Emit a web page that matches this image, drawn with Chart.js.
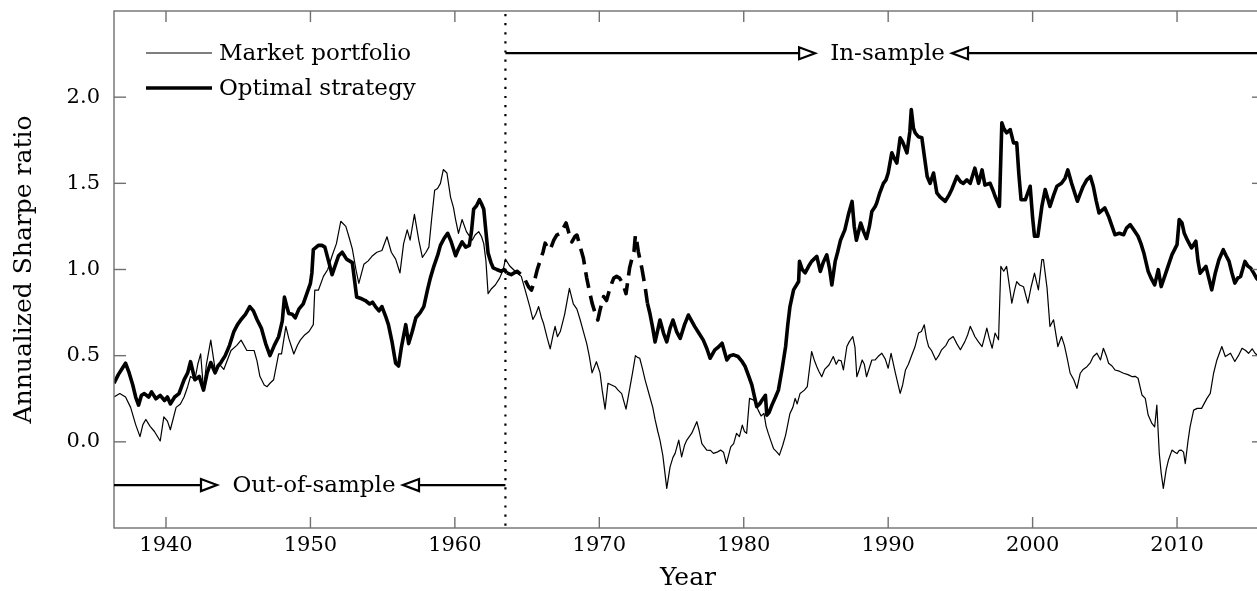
<!DOCTYPE html>
<html>
<head>
<meta charset="utf-8">
<script src="https://cdn.jsdelivr.net/npm/chart.js@4/dist/chart.umd.min.js"></script>
<style>
    html, body { margin: 0; padding: 0; background: #fff; overflow: hidden; }
    #wrap { position: relative; width: 1270px; height: 591px; }
</style>
</head>
<body>
<div id="wrap"><canvas id="sharpeChart"></canvas></div>
<script>
// Ticks
const yearTicks = [1940, 1950, 1960, 1970, 1980, 1990, 2000, 2010];
const sharpeTicks = [0.0, 0.5, 1.0, 1.5, 2.0];

// Sample split and dashed stretch of the optimal strategy
const splitYear = 1963.5;
const dashedFrom = 1963.45;
const dashedTo = 1973.34;

// Market portfolio (thin)
const marketYears = [
    1936.4, 1936.8, 1937.2, 1937.55, 1937.9, 1938.2, 1938.4, 1938.6, 1938.9, 1939.2,
    1939.6, 1939.85, 1940.1, 1940.3, 1940.7, 1941.0, 1941.25, 1941.5, 1941.7, 1942.0,
    1942.2, 1942.4, 1942.6, 1942.8, 1943.1, 1943.4, 1943.7, 1944.0, 1944.5, 1944.9,
    1945.2, 1945.6, 1946.1, 1946.3, 1946.5, 1946.8, 1947.0, 1947.2, 1947.45, 1947.8,
    1948.0, 1948.3, 1948.5, 1948.85, 1949.1, 1949.3, 1949.6, 1949.9, 1950.2, 1950.3,
    1950.55, 1950.9, 1951.2, 1951.5, 1951.8, 1952.1, 1952.45, 1952.7, 1952.9, 1953.15,
    1953.35, 1953.7, 1954.0, 1954.3, 1954.6, 1954.95, 1955.3, 1955.6, 1955.9, 1956.2,
    1956.45, 1956.7, 1956.9, 1957.2, 1957.5, 1957.75, 1958.0, 1958.2, 1958.4, 1958.6,
    1958.8, 1959.0, 1959.2, 1959.45, 1959.7, 1959.9, 1960.05, 1960.25, 1960.5, 1960.8,
    1961.2, 1961.4, 1961.65, 1961.85, 1962.0, 1962.15, 1962.3, 1962.55, 1962.8, 1963.1,
    1963.35, 1963.5, 1963.8, 1964.05, 1964.3, 1964.6, 1964.97, 1965.2, 1965.4, 1965.6,
    1965.8, 1966.0, 1966.13, 1966.4, 1966.6, 1966.8, 1966.94, 1967.1, 1967.3, 1967.6,
    1967.93, 1968.2, 1968.45, 1968.67, 1968.9, 1969.13, 1969.3, 1969.5, 1969.8, 1970.05,
    1970.2, 1970.4, 1970.6, 1970.85, 1971.1, 1971.3, 1971.55, 1971.85, 1972.13, 1972.3,
    1972.5, 1972.65, 1972.8, 1973.0, 1973.17, 1973.5, 1973.7, 1973.86, 1974.05, 1974.2,
    1974.4, 1974.67, 1974.9, 1975.1, 1975.25, 1975.5, 1975.7, 1975.9, 1976.06, 1976.4,
    1976.75, 1976.9, 1977.1, 1977.44, 1977.7, 1977.9, 1978.15, 1978.4, 1978.6, 1978.8,
    1979.1, 1979.3, 1979.5, 1979.7, 1979.9, 1980.05, 1980.2, 1980.4, 1980.7, 1981.0,
    1981.2, 1981.4, 1981.55, 1981.7, 1981.9, 1982.06, 1982.3, 1982.47, 1982.7, 1982.9,
    1983.2, 1983.4, 1983.56, 1983.7, 1983.9, 1984.2, 1984.4, 1984.7, 1984.9, 1985.06,
    1985.2, 1985.4, 1985.6, 1985.9, 1986.2, 1986.4, 1986.56, 1986.75, 1986.9, 1987.14,
    1987.3, 1987.55, 1987.7, 1987.83, 1988.0, 1988.2, 1988.35, 1988.5, 1988.7, 1988.87,
    1989.1, 1989.3, 1989.56, 1989.8, 1990.0, 1990.2, 1990.5, 1990.83, 1991.0, 1991.2,
    1991.4, 1991.6, 1991.85, 1992.1, 1992.3, 1992.5, 1992.65, 1992.8, 1993.0, 1993.3,
    1993.5, 1993.7, 1994.0, 1994.2, 1994.5, 1994.75, 1995.0, 1995.3, 1995.5, 1995.68,
    1995.85, 1996.0, 1996.25, 1996.5, 1996.65, 1996.83, 1997.0, 1997.2, 1997.4, 1997.64,
    1997.8, 1998.0, 1998.2, 1998.4, 1998.56, 1998.75, 1998.9, 1999.1, 1999.37, 1999.67,
    1999.9, 2000.13, 2000.4, 2000.64, 2000.75, 2001.0, 2001.2, 2001.45, 2001.75, 2002.0,
    2002.2, 2002.37, 2002.6, 2002.85, 2003.07, 2003.3, 2003.5, 2003.76, 2004.0, 2004.2,
    2004.45, 2004.7, 2004.9, 2005.1, 2005.26, 2005.5, 2005.7, 2006.0, 2006.3, 2006.6,
    2006.9, 2007.1, 2007.3, 2007.57, 2007.8, 2008.0, 2008.26, 2008.45, 2008.6, 2008.77,
    2008.9, 2009.05, 2009.25, 2009.4, 2009.65, 2009.85, 2010.0, 2010.15, 2010.3, 2010.45,
    2010.57, 2010.75, 2010.9, 2011.15, 2011.4, 2011.7, 2012.07, 2012.3, 2012.53, 2012.76,
    2013.1, 2013.34, 2013.7, 2014.0, 2014.25, 2014.5, 2014.75, 2014.95, 2015.2, 2015.4,
    2015.6
];
const marketSharpe = [
    0.26, 0.28, 0.26, 0.20, 0.10, 0.03, 0.10, 0.13, 0.09, 0.06,
    0.005, 0.145, 0.12, 0.07, 0.20, 0.22, 0.26, 0.32, 0.38, 0.36,
    0.45, 0.51, 0.30, 0.45, 0.59, 0.42, 0.45, 0.42, 0.53, 0.56,
    0.59, 0.53, 0.53, 0.47, 0.38, 0.33, 0.32, 0.34, 0.36, 0.51,
    0.51, 0.67, 0.60, 0.51, 0.56, 0.59, 0.62, 0.64, 0.68, 0.88,
    0.88, 0.96, 1.00, 1.08, 1.15, 1.28, 1.25, 1.18, 1.12, 1.00,
    0.92, 1.03, 1.05, 1.08, 1.10, 1.11, 1.19, 1.10, 1.06, 0.98,
    1.15, 1.23, 1.17, 1.32, 1.17, 1.07, 1.10, 1.13, 1.30, 1.46,
    1.47, 1.50, 1.58, 1.56, 1.42, 1.36, 1.29, 1.21, 1.29, 1.22,
    1.17, 1.20, 1.22, 1.19, 1.15, 1.05, 0.86, 0.89, 0.91, 0.95,
    1.00, 1.06, 1.02, 1.00, 0.98, 0.96, 0.85, 0.78, 0.71, 0.74,
    0.785, 0.72, 0.69, 0.60, 0.54, 0.62, 0.67, 0.61, 0.64, 0.74,
    0.89, 0.80, 0.77, 0.71, 0.64, 0.57, 0.50, 0.40, 0.465, 0.40,
    0.30, 0.19, 0.34, 0.33, 0.32, 0.30, 0.28, 0.19, 0.32, 0.40,
    0.50, 0.49, 0.485, 0.42, 0.36, 0.26, 0.20, 0.13, 0.06, 0.01,
    -0.08, -0.27, -0.145, -0.09, -0.067, 0.01, -0.087, -0.02, 0.01, 0.05,
    0.117, 0.07, -0.01, -0.048, -0.05, -0.067, -0.06, -0.048, -0.06, -0.126,
    -0.029, -0.01, 0.049, 0.03, 0.097, 0.06, 0.049, 0.252, 0.242, 0.184,
    0.15, 0.165, 0.09, 0.049, 0.0, -0.039, -0.06, -0.077, -0.02, 0.039,
    0.165, 0.20, 0.252, 0.22, 0.281, 0.30, 0.32, 0.524, 0.47, 0.436,
    0.41, 0.378, 0.42, 0.446, 0.495, 0.45, 0.475, 0.47, 0.417, 0.553,
    0.58, 0.611, 0.55, 0.378, 0.42, 0.475, 0.45, 0.378, 0.43, 0.475,
    0.475, 0.495, 0.514, 0.48, 0.427, 0.514, 0.398, 0.281, 0.33, 0.417,
    0.45, 0.495, 0.55, 0.631, 0.64, 0.679, 0.60, 0.553, 0.53, 0.475,
    0.50, 0.534, 0.56, 0.592, 0.611, 0.57, 0.534, 0.58, 0.62, 0.67,
    0.64, 0.611, 0.58, 0.553, 0.60, 0.66, 0.60, 0.543, 0.631, 0.592,
    1.018, 0.99, 1.018, 0.90, 0.805, 0.88, 0.93, 0.91, 0.90, 0.805,
    0.90, 0.979, 0.882, 1.057, 1.057, 0.892, 0.669, 0.708, 0.553, 0.611,
    0.56, 0.495, 0.398, 0.36, 0.31, 0.398, 0.42, 0.436, 0.46, 0.495,
    0.514, 0.475, 0.543, 0.50, 0.456, 0.44, 0.417, 0.41, 0.398, 0.39,
    0.378, 0.38, 0.369, 0.272, 0.252, 0.155, 0.107, 0.087, 0.213, -0.068,
    -0.18, -0.27, -0.16, -0.107, -0.048, -0.06, -0.068, -0.05, -0.048, -0.06,
    -0.126, 0.0, 0.087, 0.184, 0.194, 0.194, 0.252, 0.281, 0.398, 0.475,
    0.553, 0.495, 0.514, 0.466, 0.50, 0.543, 0.53, 0.514, 0.54, 0.514,
    0.50
];

// Optimal strategy (thick)
const optimalYears = [
    1936.4, 1936.7, 1937.0, 1937.2, 1937.45, 1937.7, 1937.9, 1938.1, 1938.3, 1938.5,
    1938.8, 1939.0, 1939.3, 1939.6, 1939.9, 1940.1, 1940.3, 1940.6, 1940.9, 1941.25,
    1941.5, 1941.7, 1942.0, 1942.3, 1942.6, 1942.85, 1943.1, 1943.4, 1943.6, 1943.8,
    1944.1, 1944.4, 1944.7, 1944.95, 1945.2, 1945.5, 1945.8, 1946.05, 1946.3, 1946.6,
    1946.9, 1947.2, 1947.5, 1947.8, 1948.05, 1948.2, 1948.35, 1948.5, 1948.75, 1948.95,
    1949.2, 1949.5, 1949.75, 1950.0, 1950.1, 1950.2, 1950.55, 1950.8, 1951.0, 1951.25,
    1951.5, 1951.7, 1951.95, 1952.2, 1952.5, 1952.7, 1952.9, 1953.05, 1953.2, 1953.55,
    1953.8, 1954.1, 1954.3, 1954.5, 1954.75, 1954.95, 1955.2, 1955.4, 1955.65, 1955.9,
    1956.1, 1956.3, 1956.6, 1956.8, 1957.05, 1957.3, 1957.6, 1957.85, 1958.1, 1958.3,
    1958.55, 1958.8, 1959.0, 1959.25, 1959.5, 1959.75, 1960.05, 1960.25, 1960.5, 1960.75,
    1961.0, 1961.15, 1961.3, 1961.5, 1961.7, 1961.85, 1962.0, 1962.15, 1962.3, 1962.5,
    1962.65, 1962.9, 1963.2, 1963.4, 1963.6, 1963.9, 1964.3, 1964.6, 1964.86, 1965.1,
    1965.3, 1965.5, 1965.7, 1965.9, 1966.1, 1966.25, 1966.45, 1966.6, 1966.85, 1967.05,
    1967.3, 1967.5, 1967.7, 1967.9, 1968.1, 1968.3, 1968.45, 1968.7, 1968.9, 1969.13,
    1969.3, 1969.5, 1969.7, 1969.9, 1970.05, 1970.3, 1970.5, 1970.7, 1970.86, 1971.0,
    1971.2, 1971.4, 1971.55, 1971.7, 1971.85, 1972.1, 1972.25, 1972.4, 1972.5, 1972.6,
    1972.7, 1972.94, 1973.17, 1973.33, 1973.5, 1973.7, 1973.86, 1974.05, 1974.2, 1974.45,
    1974.67, 1974.9, 1975.1, 1975.35, 1975.6, 1975.9, 1976.17, 1976.4, 1976.6, 1976.9,
    1977.2, 1977.45, 1977.67, 1978.0, 1978.25, 1978.5, 1978.83, 1979.05, 1979.3, 1979.6,
    1979.85, 1980.1, 1980.35, 1980.56, 1980.75, 1980.9, 1981.1, 1981.25, 1981.5, 1981.6,
    1981.75, 1981.95, 1982.2, 1982.4, 1982.65, 1982.9, 1983.05, 1983.2, 1983.45, 1983.8,
    1983.86, 1984.05, 1984.25, 1984.5, 1984.7, 1985.06, 1985.3, 1985.5, 1985.75, 1985.95,
    1986.1, 1986.33, 1986.5, 1986.7, 1987.0, 1987.25, 1987.5, 1987.65, 1987.8, 1988.1,
    1988.3, 1988.5, 1988.7, 1988.87, 1989.1, 1989.2, 1989.4, 1989.67, 1989.85, 1990.0,
    1990.25, 1990.45, 1990.6, 1990.83, 1991.0, 1991.3, 1991.5, 1991.6, 1991.75, 1991.87,
    1992.1, 1992.33, 1992.5, 1992.7, 1992.9, 1993.14, 1993.37, 1993.6, 1993.95, 1994.2,
    1994.4, 1994.76, 1995.0, 1995.2, 1995.45, 1995.68, 1996.0, 1996.26, 1996.5, 1996.7,
    1997.06, 1997.25, 1997.4, 1997.7, 1997.87, 1998.0, 1998.2, 1998.45, 1998.68, 1998.9,
    1999.05, 1999.2, 1999.5, 1999.83, 2000.0, 2000.13, 2000.36, 2000.64, 2000.87, 2001.2,
    2001.45, 2001.68, 2002.0, 2002.25, 2002.44, 2002.7, 2003.1, 2003.3, 2003.5, 2003.75,
    2004.0, 2004.2, 2004.4, 2004.6, 2005.0, 2005.26, 2005.5, 2005.7, 2006.0, 2006.3,
    2006.5, 2006.76, 2007.0, 2007.3, 2007.5, 2007.7, 2008.0, 2008.2, 2008.45, 2008.7,
    2008.9, 2009.1, 2009.3, 2009.65, 2010.0, 2010.15, 2010.34, 2010.5, 2010.7, 2011.0,
    2011.3, 2011.45, 2011.6, 2012.0, 2012.2, 2012.4, 2012.65, 2012.9, 2013.2, 2013.4,
    2013.6, 2013.8, 2014.0, 2014.2, 2014.4, 2014.7, 2014.9, 2015.1, 2015.3, 2015.5,
    2015.6
];
const optimalSharpe = [
    0.34, 0.39, 0.43, 0.456, 0.40, 0.33, 0.26, 0.213, 0.27, 0.28,
    0.26, 0.29, 0.25, 0.27, 0.24, 0.26, 0.22, 0.26, 0.28, 0.36,
    0.40, 0.465, 0.36, 0.38, 0.30, 0.40, 0.46, 0.40, 0.44, 0.46,
    0.50, 0.56, 0.64, 0.68, 0.71, 0.74, 0.785, 0.76, 0.71, 0.66,
    0.57, 0.50, 0.56, 0.61, 0.70, 0.84, 0.79, 0.745, 0.74, 0.72,
    0.77, 0.80, 0.86, 0.92, 0.98, 1.115, 1.14, 1.14, 1.13, 1.05,
    0.97, 1.02, 1.08, 1.10, 1.06, 1.05, 1.04, 0.94, 0.84, 0.83,
    0.82, 0.80, 0.81, 0.785, 0.76, 0.785, 0.73, 0.68, 0.58, 0.456,
    0.44, 0.55, 0.68, 0.57, 0.64, 0.72, 0.75, 0.785, 0.88, 0.95,
    1.02, 1.08, 1.14, 1.18, 1.21, 1.16, 1.08, 1.12, 1.16, 1.13,
    1.14, 1.22, 1.35, 1.37, 1.405, 1.38, 1.35, 1.22, 1.095, 1.04,
    1.01, 1.00, 0.99, 1.00, 0.98, 0.97, 0.99, 0.97, 0.94, 0.90,
    0.88, 0.93, 0.998, 1.05, 1.10, 1.153, 1.12, 1.115, 1.17, 1.20,
    1.21, 1.24, 1.27, 1.21, 1.16, 1.19, 1.20, 1.125, 1.065, 0.95,
    0.88, 0.805, 0.75, 0.707, 0.765, 0.843, 0.82, 0.88, 0.92, 0.95,
    0.96, 0.95, 0.93, 0.90, 0.86, 1.01, 1.06, 1.104, 1.20, 1.16,
    1.104, 1.01, 0.90, 0.805, 0.746, 0.66, 0.58, 0.65, 0.707, 0.63,
    0.58, 0.66, 0.707, 0.64, 0.60, 0.68, 0.736, 0.70, 0.67, 0.63,
    0.59, 0.54, 0.485, 0.534, 0.55, 0.572, 0.475, 0.50, 0.505, 0.495,
    0.47, 0.437, 0.38, 0.33, 0.26, 0.204, 0.22, 0.24, 0.27, 0.155,
    0.17, 0.213, 0.26, 0.30, 0.42, 0.553, 0.68, 0.785, 0.882, 0.93,
    1.047, 1.00, 0.98, 1.02, 1.047, 1.076, 0.989, 1.04, 1.085, 1.00,
    0.91, 1.047, 1.10, 1.17, 1.23, 1.32, 1.395, 1.25, 1.17, 1.27,
    1.22, 1.18, 1.25, 1.337, 1.366, 1.385, 1.44, 1.50, 1.52, 1.56,
    1.677, 1.64, 1.618, 1.764, 1.74, 1.677, 1.80, 1.928, 1.82, 1.793,
    1.77, 1.764, 1.66, 1.54, 1.50, 1.56, 1.444, 1.42, 1.396, 1.43,
    1.464, 1.54, 1.51, 1.50, 1.52, 1.50, 1.588, 1.50, 1.578, 1.49,
    1.50, 1.46, 1.425, 1.366, 1.851, 1.82, 1.793, 1.812, 1.735, 1.735,
    1.55, 1.405, 1.405, 1.483, 1.30, 1.193, 1.193, 1.366, 1.464, 1.366,
    1.43, 1.483, 1.50, 1.53, 1.578, 1.50, 1.396, 1.44, 1.483, 1.52,
    1.54, 1.483, 1.40, 1.328, 1.357, 1.308, 1.25, 1.202, 1.21, 1.202,
    1.24, 1.26, 1.23, 1.193, 1.15, 1.096, 0.989, 0.95, 0.911, 0.999,
    0.901, 0.95, 0.999, 1.086, 1.144, 1.29, 1.27, 1.21, 1.173, 1.125,
    1.164, 1.05, 0.979, 1.018, 0.95, 0.882, 0.98, 1.057, 1.115, 1.08,
    1.047, 0.98, 0.921, 0.95, 0.96, 1.047, 1.02, 1.008, 0.98, 0.95,
    0.94
];

// Arrow annotations (tips in years, height in Sharpe units)
const inSampleArrow = { y: 2.255, rightTip: 1984.94, leftTip: 1994.42, label: "In-sample" };
const outSampleArrow = { y: -0.251, rightTip: 1943.53, leftTip: 1956.41, label: "Out-of-sample" };

const serif = "'DejaVu Serif', 'Liberation Serif', serif";

function toPoints(xs, ys) {
    return xs.map((x, i) => ({ x, y: ys[i] }));
}

function strokeLine(ctx, x1, y1, x2, y2) {
    ctx.beginPath();
    ctx.moveTo(x1, y1);
    ctx.lineTo(x2, y2);
    ctx.stroke();
}

function arrowHead(ctx, tipX, yPx, dir) {
    // open triangle, dir = 1 points right, -1 points left
    const len = 16, half = 6;
    ctx.beginPath();
    ctx.moveTo(tipX, yPx);
    ctx.lineTo(tipX - dir * len, yPx - half);
    ctx.lineTo(tipX - dir * len, yPx + half);
    ctx.closePath();
    ctx.fillStyle = "#fff";
    ctx.fill();
    ctx.stroke();
}

function drawSampleArrow(ctx, xScale, yScale, arrow, fromX, toX) {
    const yPx = yScale.getPixelForValue(arrow.y);
    const rTip = xScale.getPixelForValue(arrow.rightTip);
    const lTip = xScale.getPixelForValue(arrow.leftTip);
    ctx.lineWidth = 2.2;
    ctx.strokeStyle = "#000";
    strokeLine(ctx, fromX, yPx, rTip - 16, yPx);
    strokeLine(ctx, lTip + 16, yPx, toX, yPx);
    arrowHead(ctx, rTip, yPx, 1);
    arrowHead(ctx, lTip, yPx, -1);
    ctx.fillStyle = "#000";
    ctx.textAlign = "center";
    ctx.textBaseline = "middle";
    ctx.fillText(arrow.label, (rTip + lTip) / 2 + 4, yPx + 1);
}

const decorations = {
    id: "decorations",
    afterDraw(chart) {
        const { ctx, chartArea: area, scales: { x, y } } = chart;
        ctx.save();

        // frame and inward ticks
        ctx.strokeStyle = "#707070";
        ctx.lineWidth = 1.4;
        ctx.strokeRect(area.left, area.top, area.right - area.left, area.bottom - area.top);
        yearTicks.forEach((v) => {
            const px = x.getPixelForValue(v);
            strokeLine(ctx, px, area.bottom, px, area.bottom - 11);
            strokeLine(ctx, px, area.top, px, area.top + 11);
        });
        sharpeTicks.forEach((v) => {
            const py = y.getPixelForValue(v);
            strokeLine(ctx, area.left, py, area.left + 12, py);
            strokeLine(ctx, area.right, py, area.right - 12, py);
        });

        // in-sample / out-of-sample split
        const splitX = x.getPixelForValue(splitYear);
        ctx.strokeStyle = "#000";
        ctx.lineWidth = 2.2;
        ctx.setLineDash([2.2, 6.9]);
        strokeLine(ctx, splitX, area.top + 3, splitX, area.bottom);
        ctx.setLineDash([]);

        ctx.font = `23px ${serif}`;
        drawSampleArrow(ctx, x, y, inSampleArrow, splitX, area.right);
        drawSampleArrow(ctx, x, y, outSampleArrow, area.left, splitX);

        // legend
        const legendItems = [
            { label: "Market portfolio", width: 1.2, top: 53 },
            { label: "Optimal strategy", width: 3.6, top: 88 }
        ];
        ctx.textAlign = "left";
        ctx.textBaseline = "middle";
        legendItems.forEach((item) => {
            ctx.lineWidth = item.width;
            ctx.strokeStyle = "#000";
            strokeLine(ctx, area.left + 32, item.top, area.left + 98, item.top);
            ctx.fillStyle = "#000";
            ctx.fillText(item.label, area.left + 105, item.top + 1);
        });

        // axis titles
        ctx.font = `25px ${serif}`;
        ctx.textAlign = "center";
        ctx.textBaseline = "alphabetic";
        ctx.fillText("Year", (area.left + area.right) / 2 - 1, 585);
        ctx.translate(31, (area.top + area.bottom) / 2);
        ctx.rotate(-Math.PI / 2);
        ctx.fillText("Annualized Sharpe ratio", 0, 0);

        ctx.restore();
    }
};

new Chart(document.getElementById("sharpeChart"), {
    type: "line",
    data: {
        datasets: [
            {
                label: "Market portfolio",
                data: toPoints(marketYears, marketSharpe),
                borderColor: "#000",
                borderWidth: 1.2,
                borderJoinStyle: "round",
                pointRadius: 0,
                tension: 0
            },
            {
                label: "Optimal strategy",
                data: toPoints(optimalYears, optimalSharpe),
                borderColor: "#000",
                borderWidth: 3.6,
                borderJoinStyle: "round",
                pointRadius: 0,
                tension: 0,
                segment: {
                    borderDash: (c) => (c.p0.parsed.x >= dashedFrom && c.p1.parsed.x <= dashedTo ? [16, 8] : undefined)
                }
            }
        ]
    },
    options: {
        responsive: true,
        maintainAspectRatio: false,
        animation: false,
        layout: { padding: { top: 11, right: 6, left: 0, bottom: 0 } },
        plugins: {
            legend: { display: false },
            tooltip: { enabled: false }
        },
        scales: {
            x: {
                type: "linear",
                min: 1936.4,
                max: 2016.02,
                afterBuildTicks: (scale) => { scale.ticks = yearTicks.map((v) => ({ value: v })); },
                afterFit: (scale) => {
                    scale.height = 63;
                    scale.paddingLeft = 0;
                    scale.paddingRight = 0;
                },
                grid: { display: false, drawTicks: false, tickLength: 0 },
                border: { display: false },
                ticks: {
                    autoSkip: false,
                    maxRotation: 0,
                    padding: 5,
                    color: "#000",
                    font: { family: serif, size: 21 },
                    callback: (v) => String(v)
                }
            },
            y: {
                min: -0.5,
                max: 2.5,
                afterBuildTicks: (scale) => { scale.ticks = sharpeTicks.map((v) => ({ value: v })); },
                afterFit: (scale) => {
                    scale.width = 114;
                    scale.paddingTop = 0;
                    scale.paddingBottom = 0;
                },
                grid: { display: false, drawTicks: false, tickLength: 0 },
                border: { display: false },
                ticks: {
                    padding: 14,
                    color: "#000",
                    font: { family: serif, size: 21 },
                    callback: (v) => Number(v).toFixed(1)
                }
            }
        }
    },
    plugins: [decorations]
});
</script>
</body>
</html>
